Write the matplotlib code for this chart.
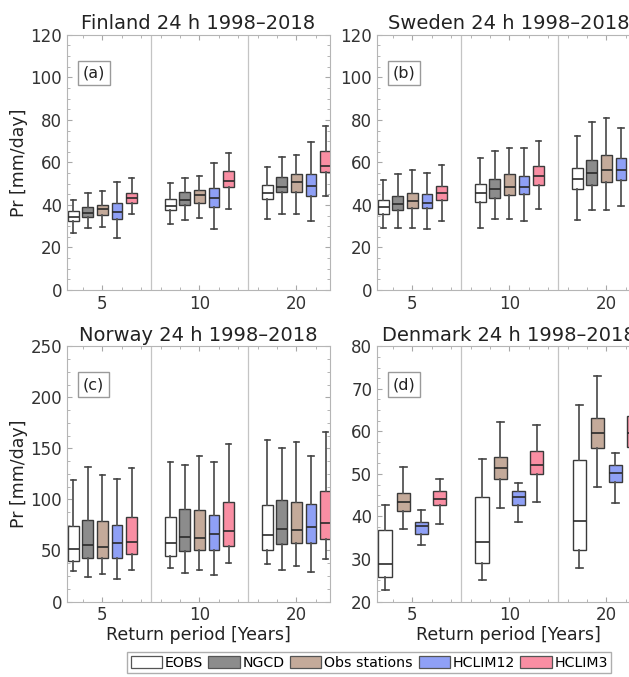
import matplotlib
matplotlib.use("Agg")
from matplotlib import pyplot as plt
from matplotlib.patches import Patch
from matplotlib.ticker import MultipleLocator, AutoMinorLocator

# return periods (x groups)
years = [5, 10, 20]
names = ["EOBS", "NGCD", "Obs stations", "HCLIM12", "HCLIM3"]
colors = ["#ffffff", "#8c8c8c", "#c4aa9a", "#8fa0f6", "#f98ea3"]

# each entry: [whisker low, q1, median, q3, whisker high] for 5, 10, 20 years
fin_eobs = [[27, 32.6, 34.5, 37, 42.5], [31, 37.5, 39.5, 42.7, 50.2], [33.4, 42.8, 45.5, 49.4, 58]]
fin_ngcd = [[29, 34.5, 36, 38.9, 45.5], [33, 40.2, 42.4, 46, 52.6], [35.6, 46, 48.6, 53, 62.4]]
fin_obs = [[29.6, 35.3, 38, 40.2, 46.5], [33.7, 40.8, 44.7, 47, 53.6], [35.8, 46.3, 51, 54.7, 63.4]]
fin_h12 = [[24.3, 33.3, 36.5, 40.8, 51], [28.5, 38.9, 43.5, 47.8, 59.6], [32.6, 44.1, 48.9, 54.4, 69.8]]
fin_h3 = [[35.6, 40.8, 43.3, 45.8, 52.6], [38.1, 48.6, 51.1, 56, 64.6], [44.4, 55.7, 58.4, 65.6, 76.9]]

swe_eobs = [[29, 35.8, 38.9, 42.2, 51.8], [29.2, 41.6, 45.8, 49.7, 62], [32.9, 47.4, 52.4, 57.6, 72.2]]
swe_ngcd = [[29, 37.5, 40.5, 44.4, 54.6], [33.4, 43.5, 47.5, 52.2, 65.6], [37.7, 49.3, 54.8, 61, 78.8]]
swe_obs = [[29, 38.4, 41.7, 45.8, 56.5], [33.4, 44.6, 48.6, 54.4, 66.7], [37.7, 50.7, 56.2, 63.4, 80.8]]
swe_h12 = [[28.7, 38.4, 41.1, 45, 55.2], [32.5, 45.3, 48.6, 53.8, 66.7], [39.7, 51.8, 56.2, 62, 76.1]]
swe_h3 = [[32.5, 42.4, 45.5, 49.1, 58.8], [38, 49.4, 53.7, 58.5, 70.1], [43, 56.5, 61.5, 67.8, 84]]

nor_eobs = [[29.4, 39.2, 51.3, 73.5, 118.6], [33.3, 44.8, 57.8, 82.7, 136.3], [36.6, 50.7, 65, 94.8, 158.5]]
nor_ngcd = [[24.5, 43.1, 55.6, 80, 131.4], [27.8, 49.7, 63.1, 90.5, 133.7], [30.4, 56.2, 71.2, 99.7, 150.7]]
nor_obs = [[26.8, 43.1, 53.3, 79.1, 124.2], [31, 50.7, 62.1, 89.2, 142.2], [35, 57.2, 70.3, 97.4, 155.9]]
nor_h12 = [[21.9, 43.1, 57.2, 74.5, 120], [25.5, 50.7, 66, 85, 136.3], [28.8, 57.2, 72.9, 95.8, 142.2]]
nor_h3 = [[31, 46.4, 58.2, 82.7, 130.4], [37.6, 54.6, 68.6, 97.7, 154.6], [41.7, 61.2, 76.8, 108, 166]]

# no NGCD for Denmark
den_eobs = [[22.6, 25.8, 28.9, 36.9, 42.8], [25.1, 29, 34, 44.6, 53.6], [27.9, 32.2, 38.9, 53.3, 66.1]]
den_obs = [[37.1, 41.3, 43.3, 45.5, 51.7], [42, 48.7, 51.5, 54, 62.1], [47, 56.2, 59.5, 63.1, 73.1]]
den_h12 = [[33.4, 35.9, 37.7, 38.6, 41.6], [38.7, 42.6, 44.6, 45.9, 47.8], [43.2, 48, 50.3, 52.1, 54.8]]
den_h3 = [[38.3, 42.6, 44.1, 45.9, 48.7], [43.4, 50, 52.2, 55.4, 61.4], [46, 56.4, 59.6, 63.7, 74]]

TICK_COL = "#333333"
SPINE_COL = "#b5b5b5"


def panel(ax, series, cols, offsets, width, ylim, ystep, title, tag, xlabel=False):
    for data, col, off in zip(series, cols, offsets):
        stats = [dict(whislo=d[0], q1=d[1], med=d[2], q3=d[3], whishi=d[4], fliers=[]) for d in data]
        pos = [i + 1 + off for i in range(len(data))]
        ax.bxp(stats, positions=pos, widths=width, capwidths=width * 0.5,
               showfliers=False, patch_artist=True, manage_ticks=False,
               boxprops=dict(facecolor=col, edgecolor="#3a3a3a", linewidth=1.0),
               medianprops=dict(color="#2a2a2a", linewidth=1.2),
               whiskerprops=dict(color="#555555", linewidth=1.3),
               capprops=dict(color="#444444", linewidth=1.2))

    for sep in (1.5, 2.5):
        ax.axvline(sep, color="#c4c4c4", linewidth=0.9, zorder=0)

    ax.set_xlim(0.635, 3.345)
    ax.set_ylim(*ylim)
    ax.set_xticks([1, 2, 3])
    ax.set_xticklabels([str(y) for y in years])
    ax.yaxis.set_major_locator(MultipleLocator(ystep))
    ax.yaxis.set_minor_locator(AutoMinorLocator(4))
    ax.xaxis.set_minor_locator(MultipleLocator(0.2))
    ax.tick_params(which="both", direction="in", top=True, right=True,
                   color="#a8a8a8", labelcolor=TICK_COL, labelsize=12)
    ax.tick_params(which="major", length=3.5)
    ax.tick_params(which="minor", length=2)
    for s in ax.spines.values():
        s.set_color(SPINE_COL)
    ax.set_title(title, fontsize=14, color="#222222", pad=4)
    ax.text(0.06, 0.85, tag, transform=ax.transAxes, fontsize=11.5, color="#222222",
            va="center", ha="left",
            bbox=dict(boxstyle="square,pad=0.3", facecolor="white", edgecolor="#9a9a9a"))
    if xlabel:
        ax.set_xlabel("Return period [Years]", fontsize=12.5, color="#222222", labelpad=1)


fig = plt.figure(figsize=(6.29, 6.77), dpi=100)
w, h = 0.418, 0.377
ax_a = fig.add_axes([0.1065, 0.5716, w, h])
ax_b = fig.add_axes([0.5994, 0.5716, w, h])
ax_c = fig.add_axes([0.1065, 0.1115, w, h])
ax_d = fig.add_axes([0.5994, 0.1115, w, h])

off5 = [-0.3, -0.15, 0.0, 0.15, 0.3]
off4 = [-0.28, -0.093, 0.093, 0.28]
col4 = [colors[0], colors[2], colors[3], colors[4]]

panel(ax_a, [fin_eobs, fin_ngcd, fin_obs, fin_h12, fin_h3], colors, off5, 0.112,
      (0, 120), 20, "Finland 24 h 1998\u20132018", "(a)")
panel(ax_b, [swe_eobs, swe_ngcd, swe_obs, swe_h12, swe_h3], colors, off5, 0.112,
      (0, 120), 20, "Sweden 24 h 1998\u20132018", "(b)")
panel(ax_c, [nor_eobs, nor_ngcd, nor_obs, nor_h12, nor_h3], colors, off5, 0.112,
      (0, 250), 50, "Norway 24 h 1998\u20132018", "(c)", xlabel=True)
panel(ax_d, [den_eobs, den_obs, den_h12, den_h3], col4, off4, 0.14,
      (20, 80), 10, "Denmark 24 h 1998\u20132018", "(d)", xlabel=True)

for ax in (ax_a, ax_c):
    ax.set_ylabel("Pr [mm/day]", fontsize=12.5, color="#222222", labelpad=2)

handles = [Patch(facecolor=c, edgecolor="#555555", linewidth=0.9) for c in colors]
fig.legend(handles, names, loc="center", bbox_to_anchor=(0.587, 0.021), ncol=5,
           fontsize=10.2, frameon=True, fancybox=False, edgecolor="#9a9a9a",
           handlelength=2.2, handleheight=0.85, handletextpad=0.2,
           columnspacing=0.4, borderpad=0.25, borderaxespad=0)

plt.savefig("out.png", dpi=100)
